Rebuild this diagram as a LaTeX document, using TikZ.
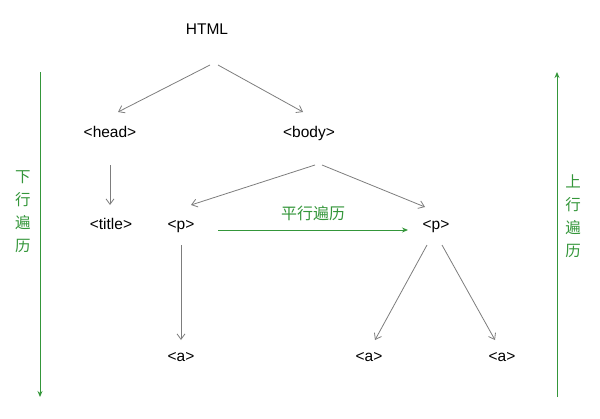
\documentclass[tikz,border=0pt]{standalone}
\usepackage{fontspec}
\setmainfont{Liberation Sans}
\newfontfamily\cjk{Noto Sans CJK SC}
\usetikzlibrary{arrows.meta}
\definecolor{edgegray}{RGB}{125,125,125}
\definecolor{walkgreen}{RGB}{52,150,58}
\begin{document}
\begin{tikzpicture}[x=1pt,y=-1pt,
  tag/.style={inner sep=0pt, text height=11.5pt, text depth=3pt, font=\fontsize{15.5}{18}\selectfont},
  edge/.style={draw=edgegray, line width=0.8pt, -{Straight Barb[length=5.5pt,width=8pt]}},
  walk/.style={draw=walkgreen, line width=0.9pt, -{Stealth[length=6pt,width=5pt]}},
  walklabel/.style={text=walkgreen, inner sep=0pt, align=center, font=\cjk\fontsize{15.5}{23}\selectfont}]
\useasboundingbox (0,0) rectangle (600,418);
\node[tag] (html) at (207,30) {HTML};
\node[tag] (head) at (110,133) {<head>};
\node[tag] (body) at (309,133) {<body>};
\node[tag] (title) at (111,225) {<title>};
\node[tag] (pl) at (181,225) {<p>};
\node[tag] (pr) at (436,225) {<p>};
\node[tag] (al) at (181,357) {<a>};
\node[tag] (am) at (369,357) {<a>};
\node[tag] (ar) at (502,357) {<a>};
% tree edges
\draw[edge] ([shift={(3,35)}]html.center) -- ([shift={(8,-21)}]head.center);
\draw[edge] ([shift={(11,35)}]html.center) -- ([shift={(-6,-21)}]body.center);
\draw[edge] ([shift={(0,32)}]head.center) -- ([shift={(-1,-20)}]title.center);
\draw[edge] ([shift={(6,32)}]body.center) -- ([shift={(10,-20)}]pl.center);
\draw[edge] ([shift={(13,32)}]body.center) -- ([shift={(-11,-18)}]pr.center);
\draw[edge] ([shift={(0,20)}]pl.center) -- ([shift={(0,-17)}]al.center);
\draw[edge] ([shift={(-9,20)}]pr.center) -- ([shift={(6,-17)}]am.center);
\draw[edge] ([shift={(6,20)}]pr.center) -- ([shift={(-7,-17)}]ar.center);
% traversal directions
\draw[walk] ([shift={(37,5)}]pl.center) -- ([shift={(-28,5)}]pr.center)
  node[walklabel, font=\cjk\fontsize{16}{19}\selectfont, midway, yshift=17pt] (side) {平行遍历};
\coordinate (downtop) at (40,72);
\coordinate (downbot) at (40,397);
\coordinate (upbot) at (557,397);
\coordinate (uptop) at (557,72);
\draw[walk] (downtop) -- (downbot);
\draw[walk] (upbot) -- (uptop);
\node[walklabel] (down) at (23,212) {下\\行\\遍\\历};
\node[walklabel] (up) at (573,216) {上\\行\\遍\\历};
\end{tikzpicture}
\end{document}
